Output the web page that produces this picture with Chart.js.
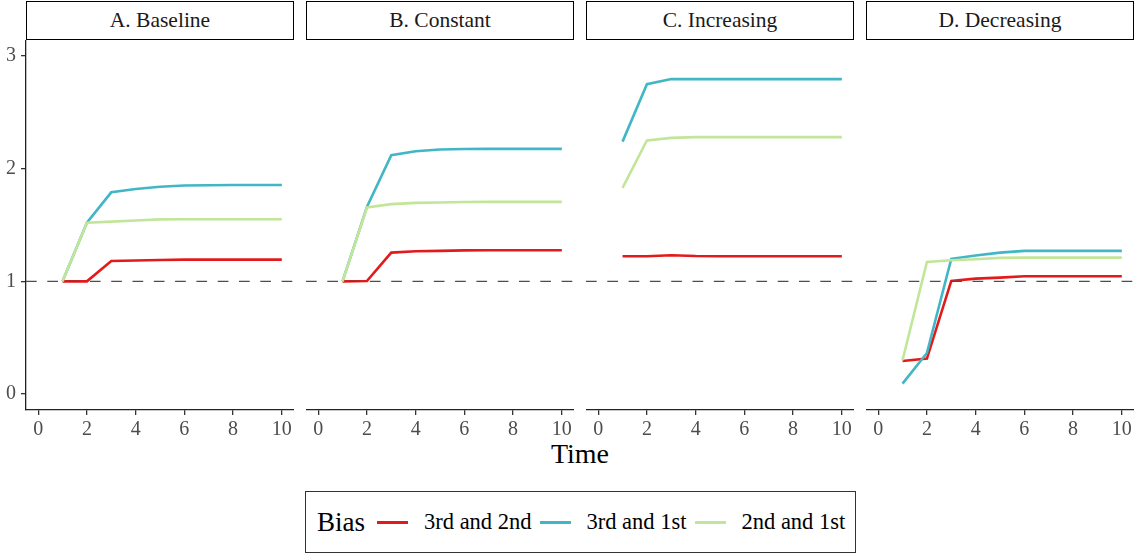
<!DOCTYPE html>
<html>
<head>
<meta charset="utf-8">
<script src="https://cdn.jsdelivr.net/npm/chart.js@4.4.1/dist/chart.umd.min.js"></script>
<style>
  body { margin: 0; background: #fff; font-family: "Liberation Serif", "DejaVu Serif", serif; }
  #wrap { position: relative; width: 1135px; height: 557px; overflow: hidden; }
  .panel { position: absolute; top: 40px; height: 410px; }
  .strip {
    position: absolute; top: 1px; height: 39px; box-sizing: border-box;
    border: 1.5px solid #000; text-align: center; line-height: 36px;
    font-size: 21.5px; color: #1a1a1a;
  }
  #xtitle { position: absolute; left: 480px; width: 200px; top: 438px; text-align: center; font-size: 28px; color: #000; }
  #legend {
    position: absolute; left: 305px; top: 491px; width: 551px; height: 62px; box-sizing: border-box;
    border: 1.3px solid #333; display: flex; align-items: center; padding-left: 11px;
  }
  #legend .title { font-size: 27px; margin-right: 12px; }
  #legend .key { width: 31px; height: 3px; margin-right: 16px; }
  #legend .lab { font-size: 22.5px; margin-right: 8px; white-space: nowrap; }
</style>
</head>
<body>
<div id="wrap">
  <div id="xtitle">Time</div>
  <div id="legend"></div>
</div>
<script>
// Data
const timePoints = [1, 2, 3, 4, 5, 6, 7, 8, 9, 10];
const xTickValues = [0, 2, 4, 6, 8, 10];
const yTickValues = [0, 1, 2, 3];
const refLine = 1;

const panelTitles = ["A. Baseline", "B. Constant", "C. Increasing", "D. Decreasing"];
const seriesLabels = ["3rd and 2nd", "3rd and 1st", "2nd and 1st"];
const seriesColors = ["#E31A1C", "#41B6C4", "#C2E699"];

const baseline32 = [1.0, 1.0, 1.18, 1.185, 1.19, 1.193, 1.193, 1.193, 1.193, 1.193];
const baseline31 = [1.0, 1.52, 1.79, 1.82, 1.84, 1.85, 1.853, 1.855, 1.855, 1.855];
const baseline21 = [1.0, 1.52, 1.53, 1.54, 1.55, 1.551, 1.551, 1.551, 1.551, 1.551];

const constant32 = [1.0, 1.003, 1.255, 1.267, 1.27, 1.275, 1.276, 1.276, 1.276, 1.276];
const constant31 = [1.0, 1.66, 2.12, 2.155, 2.17, 2.175, 2.176, 2.176, 2.176, 2.176];
const constant21 = [1.0, 1.655, 1.685, 1.696, 1.70, 1.704, 1.705, 1.705, 1.705, 1.705];

const increasing32 = [1.223, 1.223, 1.232, 1.225, 1.223, 1.223, 1.223, 1.223, 1.223, 1.223];
const increasing31 = [2.24, 2.75, 2.795, 2.795, 2.795, 2.795, 2.795, 2.795, 2.795, 2.795];
const increasing21 = [1.83, 2.25, 2.273, 2.28, 2.28, 2.28, 2.28, 2.28, 2.28, 2.28];

const decreasing32 = [0.293, 0.314, 1.004, 1.024, 1.033, 1.045, 1.045, 1.045, 1.045, 1.045];
const decreasing31 = [0.092, 0.364, 1.20, 1.23, 1.255, 1.27, 1.27, 1.27, 1.27, 1.27];
const decreasing21 = [0.30, 1.172, 1.187, 1.196, 1.208, 1.21, 1.21, 1.21, 1.21, 1.21];

const panelSeries = [
  [baseline32, baseline31, baseline21],
  [constant32, constant31, constant21],
  [increasing32, increasing31, increasing21],
  [decreasing32, decreasing31, decreasing21]
];

// panel placement (plot area left edges / width)
const panelLefts = [26, 306, 586, 866];
const panelWidth = 268;
const yAxisWidth = 26;

const axisFont = { family: "'Liberation Serif', serif", size: 20 };

function buildPanel(i) {
  const wrap = document.getElementById("wrap");
  const showY = i === 0;

  const strip = document.createElement("div");
  strip.className = "strip";
  strip.style.left = panelLefts[i] + "px";
  strip.style.width = panelWidth + "px";
  strip.textContent = panelTitles[i];
  wrap.appendChild(strip);

  const box = document.createElement("div");
  box.className = "panel";
  const left = showY ? panelLefts[i] - yAxisWidth : panelLefts[i];
  const width = showY ? panelWidth + yAxisWidth : panelWidth;
  box.style.left = left + "px";
  box.style.width = width + "px";
  const canvas = document.createElement("canvas");
  box.appendChild(canvas);
  wrap.appendChild(box);

  const datasets = panelSeries[i].map((vals, k) => ({
    label: seriesLabels[k],
    data: timePoints.map((t, j) => ({ x: t, y: vals[j] })),
    borderColor: seriesColors[k],
    borderWidth: 2.6,
    pointRadius: 0,
    tension: 0,
    order: 3 - k
  }));
  // dashed reference line at 1, across the whole panel
  datasets.push({
    label: "ref",
    data: [{ x: -0.5, y: refLine }, { x: 10.5, y: refLine }],
    borderColor: "#4d4d4d",
    borderWidth: 1.4,
    borderDash: [10.7, 10.6],
    pointRadius: 0,
    order: 0
  });

  new Chart(canvas, {
    type: "line",
    data: { datasets },
    options: {
      responsive: true,
      maintainAspectRatio: false,
      animation: false,
      layout: { padding: 0 },
      plugins: { legend: { display: false }, tooltip: { enabled: false } },
      scales: {
        x: {
          type: "linear",
          min: -0.5,
          max: 10.5,
          afterBuildTicks: s => { s.ticks = xTickValues.map(v => ({ value: v })); },
          afterFit: s => { s.height = 40; s.paddingLeft = 0; s.paddingRight = 0; },
          border: { display: true, color: "#222", width: 1.3 },
          grid: { display: true, drawOnChartArea: false, drawTicks: true, tickLength: 5, color: "#333", lineWidth: 1.3 },
          ticks: { color: "#4D4D4D", font: axisFont, padding: 3, maxRotation: 0 }
        },
        y: {
          display: showY,
          min: -0.142,
          max: 3.142,
          afterBuildTicks: s => { s.ticks = yTickValues.map(v => ({ value: v })); },
          afterFit: s => {
            s.width = showY ? yAxisWidth : 0;
            s.paddingTop = 0;
            s.paddingBottom = 0;
          },
          border: { display: true, color: "#222", width: 1.3 },
          grid: { display: true, drawOnChartArea: false, drawTicks: true, tickLength: 5, color: "#333", lineWidth: 1.3 },
          ticks: { color: "#4D4D4D", font: axisFont, padding: 5 }
        }
      }
    }
  });
}

function buildLegend() {
  const lg = document.getElementById("legend");
  const t = document.createElement("span");
  t.className = "title";
  t.textContent = "Bias";
  lg.appendChild(t);
  seriesLabels.forEach((name, k) => {
    const key = document.createElement("span");
    key.className = "key";
    key.style.background = seriesColors[k];
    lg.appendChild(key);
    const lab = document.createElement("span");
    lab.className = "lab";
    lab.textContent = name;
    lg.appendChild(lab);
  });
}

panelTitles.forEach((_, i) => buildPanel(i));
buildLegend();
</script>
</body>
</html>
